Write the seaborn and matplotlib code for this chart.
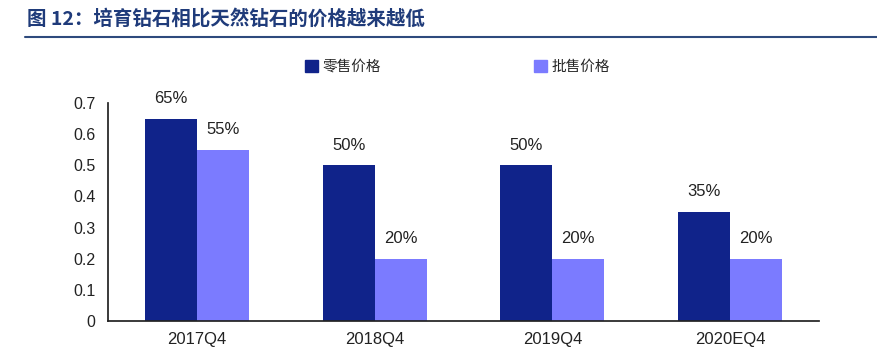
import seaborn as sns
import pandas as pd
import matplotlib.pyplot as plt
from matplotlib.patches import Patch
from matplotlib.lines import Line2D

quarters = ['2017Q4', '2018Q4', '2019Q4', '2020EQ4']
retail = [0.65, 0.50, 0.50, 0.35]
wholesale = [0.55, 0.20, 0.20, 0.20]
retail_labels = ['65%', '50%', '50%', '35%']
wholesale_labels = ['55%', '20%', '20%', '20%']
series = ['零售价格', '批售价格']
colors = ['#10238A', '#7B7BFF']

sns.set_theme(style='white')
plt.rcParams['font.family'] = ['Noto Sans CJK SC', 'DejaVu Sans']
plt.rcParams['axes.unicode_minus'] = False

df = pd.DataFrame({
    'quarter': quarters * 2,
    'value': retail + wholesale,
    'series': [series[0]] * 4 + [series[1]] * 4,
})

fig = plt.figure(figsize=(8.77, 3.57), dpi=100)
ax = fig.add_axes([108 / 877, 36 / 357, 711 / 877, 218 / 357])

sns.barplot(data=df, x='quarter', y='value', hue='series', palette=colors,
            width=0.585, saturation=1, linewidth=0, ax=ax, legend=False)

latin = ['Liberation Sans', 'DejaVu Sans']
for cont, labs in zip(ax.containers, [retail_labels, wholesale_labels]):
    ax.bar_label(cont, labels=labs, padding=9, fontsize=12, color='#222222', family=latin)

ax.set_ylim(0, 0.7)
ax.set_xlim(-0.5, 3.5)
ax.set_yticks([0, 0.1, 0.2, 0.3, 0.4, 0.5, 0.6, 0.7])
ax.set_yticklabels(['0', '0.1', '0.2', '0.3', '0.4', '0.5', '0.6', '0.7'])
ax.set_xticks([-0.5, 0.5, 1.5, 2.5, 3.5], minor=True)
ax.tick_params(axis='x', which='major', length=0, pad=8, labelsize=12)
ax.tick_params(axis='x', which='minor', direction='in', length=5, width=1, color='#222222')
ax.tick_params(axis='y', which='major', direction='out', length=5, width=1,
               color='#222222', labelsize=11.5, pad=4)
for lab in ax.get_xticklabels() + ax.get_yticklabels():
    lab.set_family(latin)
    lab.set_color('#222222')
ax.set_xlabel('')
ax.set_ylabel('')
sns.despine(ax=ax)
ax.spines['left'].set_color('#222222')
ax.spines['bottom'].set_color('#222222')

handles = [Patch(facecolor=c, edgecolor=c) for c in colors]
fig.legend(handles, series, loc='center left', bbox_to_anchor=(292 / 877, 1 - 67 / 357),
           ncol=2, frameon=False, fontsize=10.5, handlelength=0.9, handleheight=0.9,
           handletextpad=0.3, columnspacing=10.5)

fig.text(27 / 877, 1 - 19 / 357, '图 12：培育钻石相比天然钻石的价格越来越低',
         fontsize=14, fontweight='bold', color='#1F3B7A', va='center', ha='left')
fig.add_artist(Line2D([25 / 877, 1.0], [1 - 37 / 357, 1 - 37 / 357],
                      color='#2E4A7D', linewidth=1.5))

fig.savefig('out.png', dpi=100)
